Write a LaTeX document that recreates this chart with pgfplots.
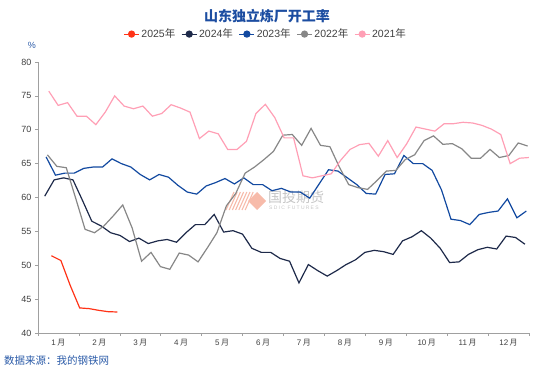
\documentclass[border=0pt]{standalone}
\usepackage{fontspec}
\setmainfont{Liberation Sans}
\newfontfamily\cjk{Noto Sans CJK SC}
\usepackage{pgfplots}
\usepackage{pgfplotstable}
\pgfplotsset{compat=1.18}
\definecolor{c2025}{HTML}{FF3317}
\definecolor{c2024}{HTML}{1E2A4A}
\definecolor{c2023}{HTML}{1249A0}
\definecolor{c2022}{HTML}{878787}
\definecolor{c2021}{HTML}{FF9FB5}
\definecolor{titleblue}{HTML}{1C4DA1}
\definecolor{srcblue}{HTML}{2B5BA8}
\definecolor{axisgray}{HTML}{A0A0A0}
\definecolor{tickgray}{HTML}{404040}
\definecolor{wmpink}{HTML}{F7BBAA}
\newcommand{\mo}[1]{#1\hspace{1.5pt}{\cjk 月}}

\pgfplotstableread{
d v
10 51.4
17 50.7
24 47.0
31 43.7
38 43.6
45 43.35
52 43.15
59 43.1
}\tE

\pgfplotstableread{
d v
5 60.2
12 62.6
19 62.9
26 62.6
33 59.6
40 56.5
47 55.8
54 54.8
61 54.4
68 53.5
75 54.0
82 53.2
89 53.6
96 53.8
103 53.4
110 54.8
117 56.0
124 56.0
131 57.5
138 54.9
145 55.1
152 54.6
159 52.5
166 51.9
173 51.9
180 51.0
187 50.6
194 47.4
201 50.1
208 49.2
215 48.4
222 49.2
229 50.1
236 50.8
243 51.9
250 52.2
257 52.0
264 51.6
271 53.6
278 54.2
285 55.1
292 54.0
299 52.5
306 50.4
313 50.5
320 51.6
327 52.3
334 52.65
341 52.4
348 54.3
355 54.1
362 53.1
}\tD

\pgfplotstableread{
d v
6 66.0
13 63.3
20 63.6
27 63.6
34 64.3
41 64.5
48 64.5
55 65.7
62 65.0
69 64.5
76 63.4
83 62.6
90 63.4
97 63.0
104 61.8
111 60.8
118 60.5
125 61.7
132 62.2
139 62.8
146 62.0
153 62.9
160 61.9
167 61.9
174 61.0
181 61.35
188 60.8
195 60.8
202 59.9
209 62.0
216 64.1
223 63.9
230 62.9
237 61.9
244 60.6
251 60.5
258 63.4
265 63.5
272 66.2
279 65.0
286 65.0
293 64.0
300 61.1
307 56.8
314 56.6
321 56.0
328 57.5
335 57.8
342 58.0
349 59.8
356 57.0
363 58.0
}\tC

\pgfplotstableread{
d v
7 66.3
14 64.6
21 64.4
28 59.9
35 55.3
42 54.8
49 55.8
56 57.3
63 58.9
70 55.5
77 50.6
84 51.9
91 49.8
98 49.4
105 51.8
112 51.5
119 50.5
126 52.6
133 54.8
140 58.75
147 60.6
154 63.6
161 64.5
168 65.6
175 66.8
182 69.2
189 69.3
196 67.7
203 70.2
210 67.7
217 67.5
224 64.5
231 61.9
238 61.45
245 61.2
252 62.5
259 63.9
266 64.0
273 65.6
280 66.3
287 68.4
294 69.1
301 67.85
308 67.95
315 67.2
322 65.8
329 65.8
336 67.1
343 65.9
350 66.2
357 68.05
364 67.6
}\tB

\pgfplotstableread{
d v
8 75.7
15 73.6
22 74.0
29 72.0
36 72.0
43 70.75
50 72.6
57 75.0
64 73.5
71 73.1
78 73.5
85 72.0
92 72.4
99 73.7
106 73.2
113 72.6
120 68.7
127 69.8
134 69.4
141 67.1
148 67.1
155 68.3
162 72.4
169 73.75
176 71.8
183 68.8
190 68.8
197 63.2
204 62.9
211 63.2
218 63.5
225 65.5
232 67.1
239 67.8
246 68.0
253 66.1
260 68.4
267 65.9
274 67.9
281 70.4
288 70.1
295 69.8
302 70.9
309 70.9
316 71.1
323 71.0
330 70.65
337 70.1
344 69.3
351 65.0
358 65.8
365 65.9
}\tA

\begin{document}
\begin{tikzpicture}[x=1pt,y=1pt]
\useasboundingbox (0pt,0pt) rectangle (550pt,376pt);
% watermark
\foreach \i in {0,...,6} {\draw[wmpink, line width=1.1pt] (226pt+3.2pt*\i,166pt) -- (234pt+3.2pt*\i,184pt);}
\fill[wmpink] (257pt,184pt) -- (266pt,175pt) -- (257pt,166pt) -- (248pt,175pt) -- cycle;
\node[anchor=west, text=gray!45, inner sep=0pt] at (268pt,179pt) {\cjk\fontsize{14}{14}\selectfont 国投期货};
\node[anchor=west, text=gray!45, inner sep=0pt] at (269pt,168.5pt) {\fontsize{5}{5}\selectfont\addfontfeature{LetterSpace=25}SDIC FUTURES};
% titles
\node[text=titleblue] at (267pt,360pt) {\cjk\bfseries\fontsize{14}{14}\selectfont 山东独立炼厂开工率};
\node[text=srcblue] at (32pt,331pt) {\fontsize{9}{9}\selectfont\%};
\node[anchor=west, text=srcblue, inner sep=0pt] at (4pt,15pt) {\cjk\fontsize{10.5}{10.5}\selectfont 数据来源：我的钢铁网};
\begin{axis}[
  at={(38pt,43pt)}, anchor=south west,
  scale only axis, width=491pt, height=271pt,
  xmin=0, xmax=365, ymin=40, ymax=80,
  axis x line*=bottom, axis y line*=left,
  axis line style={draw=axisgray, line width=0.8pt},
  ytick={40,45,...,80},
  y tick label style={font=\fontsize{9}{9}\selectfont, text=tickgray},
  /pgf/number format/assume math mode=true,
  tick align=outside,
  major tick length=3pt, minor tick length=3pt,
  tick style={draw=axisgray, line width=0.6pt},
  xtick={15.21,45.63,76.04,106.46,136.88,167.29,197.71,228.13,258.54,288.96,319.38,349.79},
  minor xtick={0,30.42,60.83,91.25,121.67,152.08,182.5,212.92,243.33,273.75,304.17,334.58,365},
  xticklabels={\mo1,\mo2,\mo3,\mo4,\mo5,\mo6,\mo7,\mo8,\mo9,\mo{10},\mo{11},\mo{12}},
  x tick label style={font=\fontsize{8}{8}\selectfont, text=tickgray},
  major x tick style={draw=none},
  legend columns=5,
  legend style={at={(0.464,1.103)}, anchor=center, draw=none, fill=none,
    font=\fontsize{10.5}{10.5}\selectfont, text=tickgray,
    /tikz/every even column/.append style={column sep=4pt}},
  legend image code/.code={\draw[#1, line width=0.8pt] (0pt,0pt) -- (15pt,0pt); \fill[#1] (7.5pt,0pt) circle (3pt);},
]
\addplot[color=c2025, line width=1.2pt, mark=none] table[x=d,y=v]{\tE};
\addlegendentry{2025{\cjk 年}}
\addplot[color=c2024, line width=1.2pt, mark=none] table[x=d,y=v]{\tD};
\addlegendentry{2024{\cjk 年}}
\addplot[color=c2023, line width=1.2pt, mark=none] table[x=d,y=v]{\tC};
\addlegendentry{2023{\cjk 年}}
\addplot[color=c2022, line width=1.2pt, mark=none] table[x=d,y=v]{\tB};
\addlegendentry{2022{\cjk 年}}
\addplot[color=c2021, line width=1.2pt, mark=none] table[x=d,y=v]{\tA};
\addlegendentry{2021{\cjk 年}}
\end{axis}
\end{tikzpicture}
\end{document}
